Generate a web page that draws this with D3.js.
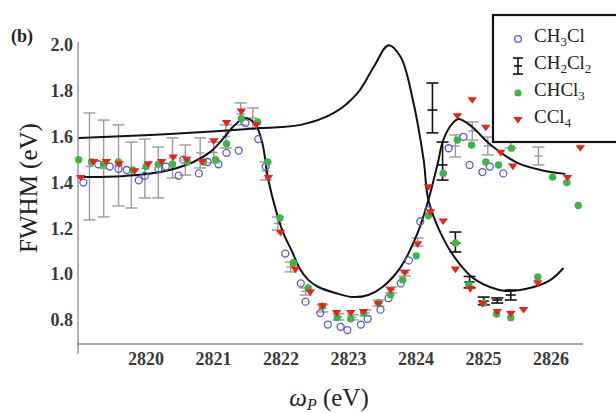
<!DOCTYPE html>
<html><head><meta charset="utf-8">
<script src="https://cdn.jsdelivr.net/npm/d3@7"></script>
<style>
html,body{margin:0;padding:0;background:#fff;}
svg{display:block;}
</style></head>
<body>
<svg id="chart" width="616" height="413"></svg>
<script>
// ---------- data ----------
const xTicks = [2820, 2821, 2822, 2823, 2824, 2825, 2826];
const yTicks = [0.8, 1.0, 1.2, 1.4, 1.6, 1.8, 2.0];

// fit curve A  [omega, FWHM]
const curveA = [
  [2819.01,1.424],[2819.70,1.429],[2820.22,1.446],[2820.71,1.490],[2820.96,1.534],
  [2821.16,1.595],[2821.30,1.645],[2821.48,1.682],[2821.63,1.652],[2821.73,1.573],
  [2821.82,1.411],[2821.93,1.280],[2822.04,1.180],[2822.18,1.093],[2822.27,1.031],
  [2822.41,0.975],[2822.56,0.944],[2822.81,0.918],[2823.07,0.900],[2823.30,0.909],
  [2823.51,0.944],[2823.78,1.031],[2824.03,1.180],[2824.19,1.324],[2824.33,1.486],
  [2824.41,1.586],[2824.55,1.660],[2824.64,1.678],[2824.84,1.643],[2825.08,1.573],
  [2825.51,1.486],[2825.85,1.455],[2826.22,1.438]
];
// fit curve B
const curveB = [
  [2819.01,1.595],[2820.07,1.608],[2821.11,1.625],[2821.70,1.638],[2822.30,1.652],
  [2822.79,1.704],[2823.14,1.791],[2823.38,1.905],[2823.60,2.000],[2823.78,1.948],
  [2823.96,1.761],[2824.12,1.499],[2824.19,1.324],[2824.40,1.162],[2824.64,1.049],
  [2824.89,0.975],[2825.33,0.927],[2825.75,0.944],[2826.00,0.975],[2826.19,1.027]
];

// CH3Cl (open circles)
const ch3cl = [
  [2819.08,1.40],[2819.30,1.48],[2819.47,1.47],[2819.60,1.46],[2819.72,1.455],
  [2819.90,1.41],[2819.99,1.43],[2820.19,1.46],[2820.30,1.47],[2820.49,1.43],
  [2820.56,1.50],[2820.79,1.44],[2820.92,1.49],[2821.08,1.48],[2821.20,1.53],
  [2821.38,1.54],[2821.48,1.66],[2821.67,1.59],[2821.78,1.47],[2822.07,1.09],
  [2822.30,0.96],[2822.37,0.88],[2822.59,0.83],[2822.70,0.78],[2822.89,0.77],
  [2822.99,0.756],[2823.19,0.78],[2823.29,0.805],[2823.48,0.845],[2823.60,0.895],
  [2823.78,0.96],[2823.90,1.06],[2824.07,1.23],[2824.19,1.28],[2824.49,1.55],
  [2824.71,1.60],[2824.80,1.477],[2824.99,1.446],[2825.10,1.47],[2825.30,1.44]
];

// CHCl3 (filled green dots)
const chcl3 = [
  [2819.01,1.50],[2819.20,1.49],[2819.38,1.48],[2819.60,1.49],[2819.81,1.455],
  [2820.01,1.47],[2820.19,1.48],[2820.40,1.48],[2820.62,1.49],[2820.86,1.49],
  [2821.04,1.50],[2821.20,1.57],[2821.42,1.68],[2821.66,1.665],[2821.81,1.49],
  [2821.99,1.245],[2822.19,1.05],[2822.41,0.94],[2822.62,0.86],[2822.84,0.81],
  [2823.04,0.805],[2823.23,0.83],[2823.45,0.875],[2823.63,0.91],[2823.81,0.975],
  [2824.01,1.08],[2824.19,1.255],[2824.41,1.44],[2824.59,1.136],[2824.62,1.586],
  [2824.79,0.953],[2824.83,1.564],[2825.01,0.874],[2825.04,1.49],[2825.20,0.826],
  [2825.23,1.477],[2825.41,0.81],[2825.42,1.55],[2825.81,0.988],[2826.03,1.424],
  [2826.24,1.40],[2826.41,1.30]
];

// CCl4 (red down-triangles)
const ccl4 = [
  [2819.04,1.42],[2819.23,1.49],[2819.42,1.49],[2819.61,1.48],[2819.84,1.45],
  [2820.04,1.48],[2820.24,1.49],[2820.41,1.51],[2820.61,1.50],[2820.84,1.49],
  [2821.01,1.58],[2821.20,1.66],[2821.42,1.71],[2821.64,1.65],[2821.82,1.42],
  [2822.00,1.18],[2822.22,1.02],[2822.44,0.92],[2822.62,0.86],[2822.83,0.83],
  [2823.04,0.83],[2823.23,0.835],[2823.45,0.87],[2823.63,0.93],[2823.84,1.005],
  [2824.03,1.13],[2824.19,1.38],[2824.22,1.27],[2824.41,1.23],[2824.59,1.02],
  [2824.62,1.69],[2824.81,0.935],[2824.84,1.76],[2824.99,0.87],[2825.04,1.64],
  [2825.21,0.835],[2825.26,1.53],[2825.41,0.826],[2825.44,1.47],[2825.60,0.844],
  [2825.81,0.96],[2826.25,1.42],[2826.44,1.55]
];

// CH2Cl2 error bars  [omega, low, mid, high]
const ch2cl2 = [
  [2824.25,1.617,1.717,1.835],[2824.40,1.411,1.477,1.577],[2824.59,1.097,1.136,1.184],
  [2824.80,0.940,0.966,0.990],[2825.01,0.866,0.883,0.900],[2825.21,0.874,0.887,0.896],
  [2825.41,0.887,0.909,0.931]
];
// grey error bars  [omega, low, high]
const greyBars = [
  [2819.17,1.237,1.704],[2819.38,1.250,1.673],[2819.60,1.298,1.652],[2819.79,1.289,1.577],
  [2819.99,1.333,1.590],[2820.19,1.333,1.555],[2820.40,1.420,1.595],[2820.59,1.433,1.564],
  [2820.81,1.464,1.595],[2821.01,1.486,1.577],[2821.19,1.551,1.652],[2821.41,1.652,1.748],
  [2821.59,1.638,1.726],[2821.78,1.411,1.490],[2821.96,1.193,1.250],[2822.15,1.010,1.053],
  [2822.37,0.909,0.940],[2822.62,0.835,0.866],[2822.86,0.800,0.826],[2823.07,0.800,0.822],
  [2823.26,0.817,0.844],[2823.45,0.861,0.887],[2823.64,0.918,0.944],[2823.84,0.992,1.018],
  [2824.03,1.123,1.158],[2824.59,1.512,1.608],[2824.84,1.586,1.665],[2825.07,1.521,1.599],
  [2825.41,1.551,1.621],[2825.82,1.477,1.555]
];

const legendItems = [
  {key:"circle",  parts:[["CH",0],["3",1],["Cl",0]]},
  {key:"bar",     parts:[["CH",0],["2",1],["Cl",0],["2",1]]},
  {key:"dot",     parts:[["CHCl",0],["3",1]]},
  {key:"tri",     parts:[["CCl",0],["4",1]]}
];

// ---------- drawing ----------
const svg = d3.select("#chart");
const x = d3.scaleLinear().domain([2819, 2826.48]).range([78, 583]);
const y = d3.scaleLinear().domain([0.695, 2.014]).range([344, 42]);

const BLUE = "#5a5ad2", GREEN = "#3fb548", RED = "#e8231c", GREY = "#9a9a9a";
const serif = "'Liberation Serif', 'DejaVu Serif', serif";

// axes
const xAxis = d3.axisBottom(x).tickValues(xTicks).tickSize(0).tickPadding(8).tickFormat(d3.format("d"));
const yAxis = d3.axisLeft(y).tickValues(yTicks).tickSize(0).tickPadding(5).tickFormat(d3.format(".1f"));
const gx = svg.append("g").attr("transform","translate(0,344)").call(xAxis);
const gy = svg.append("g").attr("transform","translate(78,0)").call(yAxis);
[gx, gy].forEach(g => {
  g.select(".domain").remove();
  g.selectAll("text").attr("font-family", serif).attr("font-size", 18)
    .attr("font-weight", "bold").attr("fill", "#3a3a3a");
});
gx.selectAll("text").attr("dy", "0.72em");
svg.append("line").attr("x1",78).attr("x2",78).attr("y1",42).attr("y2",354)
  .attr("stroke","#8c8c8c").attr("stroke-width",1.3);
svg.append("line").attr("x1",77).attr("x2",583).attr("y1",344).attr("y2",344)
  .attr("stroke","#8c8c8c").attr("stroke-width",1.3);

// grey error bars
const gGrey = svg.append("g").attr("stroke", GREY).attr("stroke-width", 1.4).attr("fill","none");
greyBars.forEach(d => {
  const cx = x(d[0]), y1 = y(d[1]), y2 = y(d[2]);
  gGrey.append("line").attr("x1",cx).attr("x2",cx).attr("y1",y1).attr("y2",y2);
  gGrey.append("line").attr("x1",cx-6).attr("x2",cx+6).attr("y1",y1).attr("y2",y1);
  gGrey.append("line").attr("x1",cx-6).attr("x2",cx+6).attr("y1",y2).attr("y2",y2);
  gGrey.append("line").attr("x1",cx-4).attr("x2",cx+4).attr("y1",(y1+y2)/2).attr("y2",(y1+y2)/2);
});

// curves
const line = d3.line().x(d => x(d[0])).y(d => y(d[1])).curve(d3.curveCatmullRom.alpha(0.5));
[curveA, curveB].forEach(c => {
  svg.append("path").attr("d", line(c)).attr("fill","none")
    .attr("stroke","#111").attr("stroke-width",2);
});

// CH2Cl2 black bars
const gBlack = svg.append("g").attr("stroke", "#111").attr("stroke-width", 1.6).attr("fill","none");
ch2cl2.forEach(d => {
  const cx = x(d[0]), y1 = y(d[1]), ym = y(d[2]), y2 = y(d[3]);
  gBlack.append("line").attr("x1",cx).attr("x2",cx).attr("y1",y1).attr("y2",y2);
  gBlack.append("line").attr("x1",cx-6).attr("x2",cx+6).attr("y1",y1).attr("y2",y1);
  gBlack.append("line").attr("x1",cx-6).attr("x2",cx+6).attr("y1",y2).attr("y2",y2);
  gBlack.append("line").attr("x1",cx-5).attr("x2",cx+5).attr("y1",ym).attr("y2",ym);
});

// markers
const triPath = (cx, cy) => `M${cx-4.8},${cy-3} L${cx+4.8},${cy-3} L${cx},${cy+3.6} Z`;
svg.append("g").selectAll("circle").data(ch3cl).join("circle")
  .attr("cx", d => x(d[0])).attr("cy", d => y(d[1])).attr("r", 3.5)
  .attr("fill","none").attr("stroke", BLUE).attr("stroke-width", 1.3);
svg.append("g").selectAll("circle").data(chcl3).join("circle")
  .attr("cx", d => x(d[0])).attr("cy", d => y(d[1])).attr("r", 3.7)
  .attr("fill", GREEN);
svg.append("g").selectAll("path").data(ccl4).join("path")
  .attr("d", d => triPath(x(d[0]), y(d[1]))).attr("fill", RED);

// legend
const lg = svg.append("g");
lg.append("rect").attr("x",493).attr("y",15).attr("width",135).attr("height",127)
  .attr("fill","#fff").attr("stroke","#111").attr("stroke-width",2.2);
legendItems.forEach((it, i) => {
  const cy = 39 + i*27, mx = 518;
  if (it.key === "circle") {
    lg.append("circle").attr("cx",mx).attr("cy",cy).attr("r",3.4).attr("fill","none")
      .attr("stroke",BLUE).attr("stroke-width",1.3);
  } else if (it.key === "bar") {
    const b = lg.append("g").attr("stroke","#111").attr("stroke-width",1.6);
    b.append("line").attr("x1",mx).attr("x2",mx).attr("y1",cy-8).attr("y2",cy+8);
    b.append("line").attr("x1",mx-5).attr("x2",mx+5).attr("y1",cy-8).attr("y2",cy-8);
    b.append("line").attr("x1",mx-5).attr("x2",mx+5).attr("y1",cy+8).attr("y2",cy+8);
    b.append("line").attr("x1",mx-4).attr("x2",mx+4).attr("y1",cy).attr("y2",cy);
  } else if (it.key === "dot") {
    lg.append("circle").attr("cx",mx).attr("cy",cy).attr("r",3.6).attr("fill",GREEN);
  } else {
    lg.append("path").attr("d", triPath(mx, cy)).attr("fill", RED);
  }
  const t = lg.append("text").attr("x",534).attr("y",cy+7)
    .attr("font-family",serif).attr("font-size",19).attr("fill","#222");
  it.parts.forEach(p => {
    if (p[1]) t.append("tspan").attr("font-size",13).attr("dy",4).text(p[0]);
    else t.append("tspan").attr("dy", t.selectAll("tspan").size() ? -4 : 0).text(p[0]);
  });
});

// titles
svg.append("text").attr("transform","translate(37,188) rotate(-90)")
  .attr("text-anchor","middle").attr("font-family",serif).attr("font-size",25)
  .attr("fill","#222").text("FWHM (eV)");
const xt = svg.append("text").attr("x",329).attr("y",406).attr("text-anchor","middle")
  .attr("font-family",serif).attr("font-size",25).attr("fill","#222");
xt.append("tspan").attr("font-style","italic").text("ω");
xt.append("tspan").attr("font-style","italic").attr("font-size",16).attr("dy",4).text("P");
xt.append("tspan").attr("dy",-4).text(" (eV)");
svg.append("text").attr("x",11).attr("y",42).attr("font-family",serif)
  .attr("font-size",18).attr("font-weight","bold").attr("fill","#222").text("(b)");
</script>
</body></html>
